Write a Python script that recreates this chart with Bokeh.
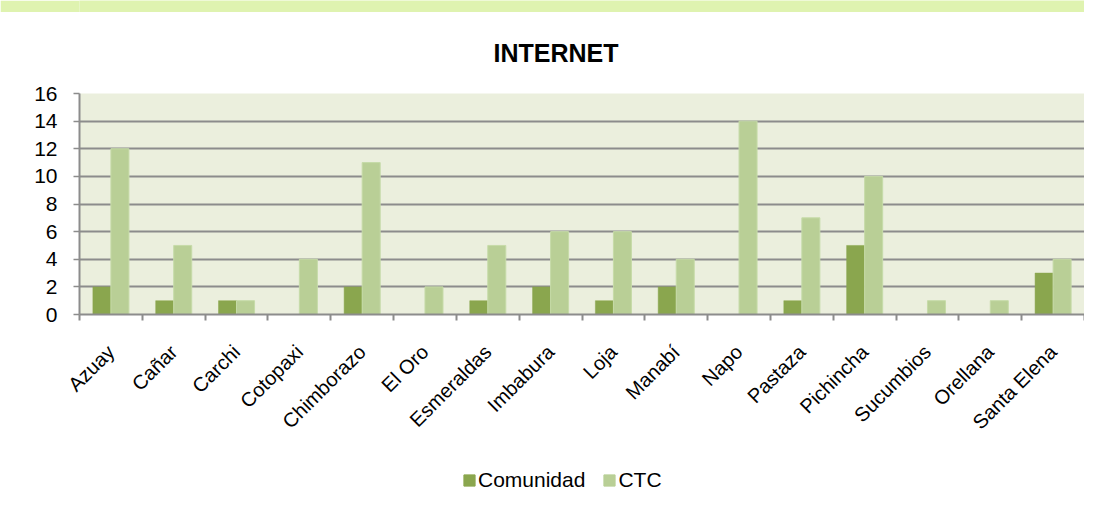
import math
from bokeh.plotting import figure
from bokeh.layouts import column
from bokeh.models import (ColumnDataSource, FixedTicker, Legend, LegendItem, Range1d, Title)
from bokeh.embed import file_html
from bokeh.resources import INLINE

provinces = ["Azuay", "Cañar", "Carchi", "Cotopaxi", "Chimborazo", "El Oro", "Esmeraldas",
             "Imbabura", "Loja", "Manabí", "Napo", "Pastaza", "Pichincha", "Sucumbios",
             "Orellana", "Santa Elena"]
comunidad = [2, 1, 1, 0, 2, 0, 1, 2, 1, 2, 0, 1, 5, 0, 0, 3]
ctc = [12, 5, 1, 4, 11, 2, 5, 6, 6, 4, 14, 7, 10, 1, 1, 4]
y_ticks = [0, 2, 4, 6, 8, 10, 12, 14, 16]
title_text = "INTERNET"

FONT = "Liberation Sans"
DARK = "#8aa64e"
LIGHT = "#b9cf96"
GRID = "#8c8c8c"
BAND = "#dff3b0"
W = 1084
BAND_H = 12

# thin page band on top
head = figure(width=W, height=BAND_H, output_backend="svg", toolbar_location=None,
              x_range=Range1d(0, 1), y_range=Range1d(0, 1),
              min_border_left=0, min_border_right=0, min_border_top=0, min_border_bottom=0)
head.axis.visible = False
head.grid.visible = False
head.outline_line_color = None
head.background_fill_color = BAND
head.border_fill_color = BAND

n = len(provinces)
centers = [i + 0.5 for i in range(n)]
bw = 0.287
src = ColumnDataSource(dict(
    xc=[c - bw / 2 for c in centers],
    xt=[c + bw / 2 for c in centers],
    com=comunidad, ctc=ctc))

p = figure(width=W, height=444 - BAND_H, output_backend="svg", toolbar_location=None,
           x_range=Range1d(0, n), y_range=Range1d(0, 16),
           min_border_left=79, min_border_right=0, min_border_top=93 - BAND_H,
           min_border_bottom=129)
p.background_fill_color = "#ebefdd"
p.border_fill_color = "white"
p.outline_line_color = None

t = Title(text=title_text, align="left", offset=414, text_font=FONT, vertical_align="top",
          text_font_size="25px", text_font_style="bold", text_color="black", standoff=50)
p.add_layout(t, "above")

r1 = p.vbar(x="xc", top="com", width=bw, source=src, fill_color=DARK, line_color=DARK, line_width=0.5)
r2 = p.vbar(x="xt", top="ctc", width=bw, source=src, fill_color=LIGHT, line_color="#c6dba8", line_width=1)

xa = p.xaxis[0]
xa.ticker = FixedTicker(ticks=centers, minor_ticks=list(range(n + 1)))
xa.major_label_overrides = {c: name for c, name in zip(centers, provinces)}
xa.major_label_orientation = math.pi / 4
xa.major_tick_out = 0
xa.major_tick_in = 0
xa.minor_tick_out = 6
xa.minor_tick_in = 0
xa.minor_tick_line_color = GRID
xa.minor_tick_line_width = 2
xa.axis_line_color = GRID
xa.axis_line_width = 2
xa.major_label_text_font = FONT
xa.major_label_text_font_size = "20px"
xa.major_label_text_color = "black"
xa.major_label_standoff = 28

ya = p.yaxis[0]
ya.ticker = FixedTicker(ticks=y_ticks)
ya.minor_tick_line_color = None
ya.major_tick_out = 6
ya.major_tick_in = 0
ya.major_tick_line_color = GRID
ya.major_tick_line_width = 1.5
ya.axis_line_color = GRID
ya.axis_line_width = 2
ya.major_label_text_font = FONT
ya.major_label_text_font_size = "21px"
ya.major_label_text_color = "black"
ya.major_label_standoff = 16

p.xgrid.grid_line_color = None
p.ygrid.ticker = FixedTicker(ticks=y_ticks)
p.ygrid.grid_line_color = GRID
p.ygrid.grid_line_width = 2

# legend strip below the chart
q = figure(width=W, height=48, output_backend="svg", toolbar_location=None,
           x_range=Range1d(0, 1), y_range=Range1d(0, 1),
           min_border_left=0, min_border_right=0, min_border_top=0, min_border_bottom=0)
q.axis.visible = False
q.grid.visible = False
q.outline_line_color = None
q.background_fill_color = "white"
q.border_fill_color = "white"
lr1 = q.vbar(x=[5], top=[1], width=0.1, fill_color=DARK, line_color=DARK)
lr2 = q.vbar(x=[5], top=[1], width=0.1, fill_color=LIGHT, line_color=LIGHT)
legend = Legend(items=[LegendItem(label="Comunidad", renderers=[lr1]),
                       LegendItem(label="CTC", renderers=[lr2])],
                location=(383, 0), orientation="horizontal",
                glyph_width=14, glyph_height=14, label_standoff=2, spacing=17,
                padding=0, margin=0, border_line_color=None, background_fill_alpha=0,
                label_text_font=FONT, label_text_font_size="21px", label_text_color="black")
q.add_layout(legend, "center")

layout = column(head, p, q, spacing=0)
open("out.html", "w").write(file_html(layout, INLINE))
